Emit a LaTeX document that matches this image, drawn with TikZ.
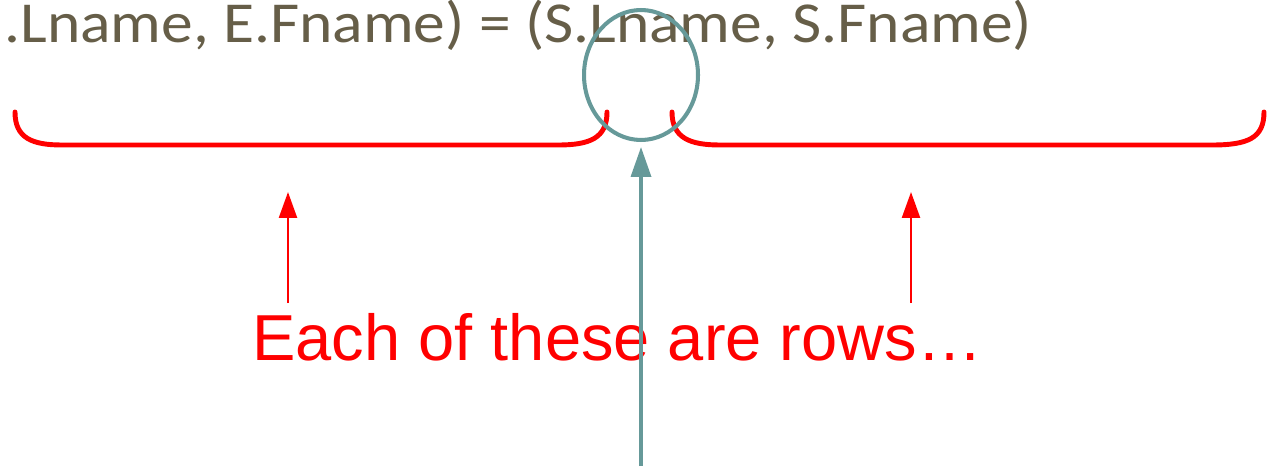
\documentclass[tikz,border=0pt]{standalone}
\usepackage{fontspec}
\setmainfont{Liberation Sans}
\newfontfamily\calibri{Carlito}
\usetikzlibrary{arrows.meta, shapes.geometric}
\definecolor{olivetxt}{RGB}{102,94,72}
\definecolor{tealring}{RGB}{102,153,153}
\begin{document}
\begin{tikzpicture}[x=0.02cm, y=-0.02cm]
\tikzset{
    brace/.style={line width=2.8pt, red, line cap=round},
    rowarrow/.style={-{Triangle[width=0.36cm, length=0.52cm]}, line width=1.4pt, red},
    ring/.style={ellipse, line width=2.3pt, draw=tealring, minimum width=2.28cm, minimum height=2.6cm, inner sep=0pt},
    keyarrow/.style={-{Triangle[width=0.4cm, length=0.6cm]}, line width=2pt, tealring}
}
\useasboundingbox (0,0) rectangle (1270,470);
\node[anchor=base west, inner sep=0pt, font=\calibri\fontsize{33}{36}\selectfont, text=olivetxt]
    (cond) at (4,42) {\scalebox{1.095}[1]{.Lname, E.Fname) = (S.Lname, S.Fname)}};
% label
\node[anchor=base west, inner sep=0pt, font=\fontsize{37}{40}\selectfont, text=red]
    (rows) at (252,360) {Each of these are rows\ldots};
% braces under each side
\draw[brace] (15,112) .. controls (15,138) and (32,145) .. (62,145) -- (558,145)
    .. controls (590,145) and (607,138) .. (607,112);
\draw[brace] (672,112) .. controls (672,138) and (690,145) .. (720,145) -- (1212,145)
    .. controls (1248,145) and (1264,138) .. (1264,112);
% equality mark
\node[ring] (eq) at (641,75) {};
\coordinate (eqtail) at (641,466);
\coordinate (eqtip) at (641,147);
\draw[keyarrow] (eqtail) -- (eqtip);
\coordinate (ltail) at (288,303);
\coordinate (ltip) at (288,192);
\coordinate (rtail) at (911,303);
\coordinate (rtip) at (911,192);
\draw[rowarrow] (ltail) -- (ltip);
\draw[rowarrow] (rtail) -- (rtip);
\end{tikzpicture}
\end{document}
